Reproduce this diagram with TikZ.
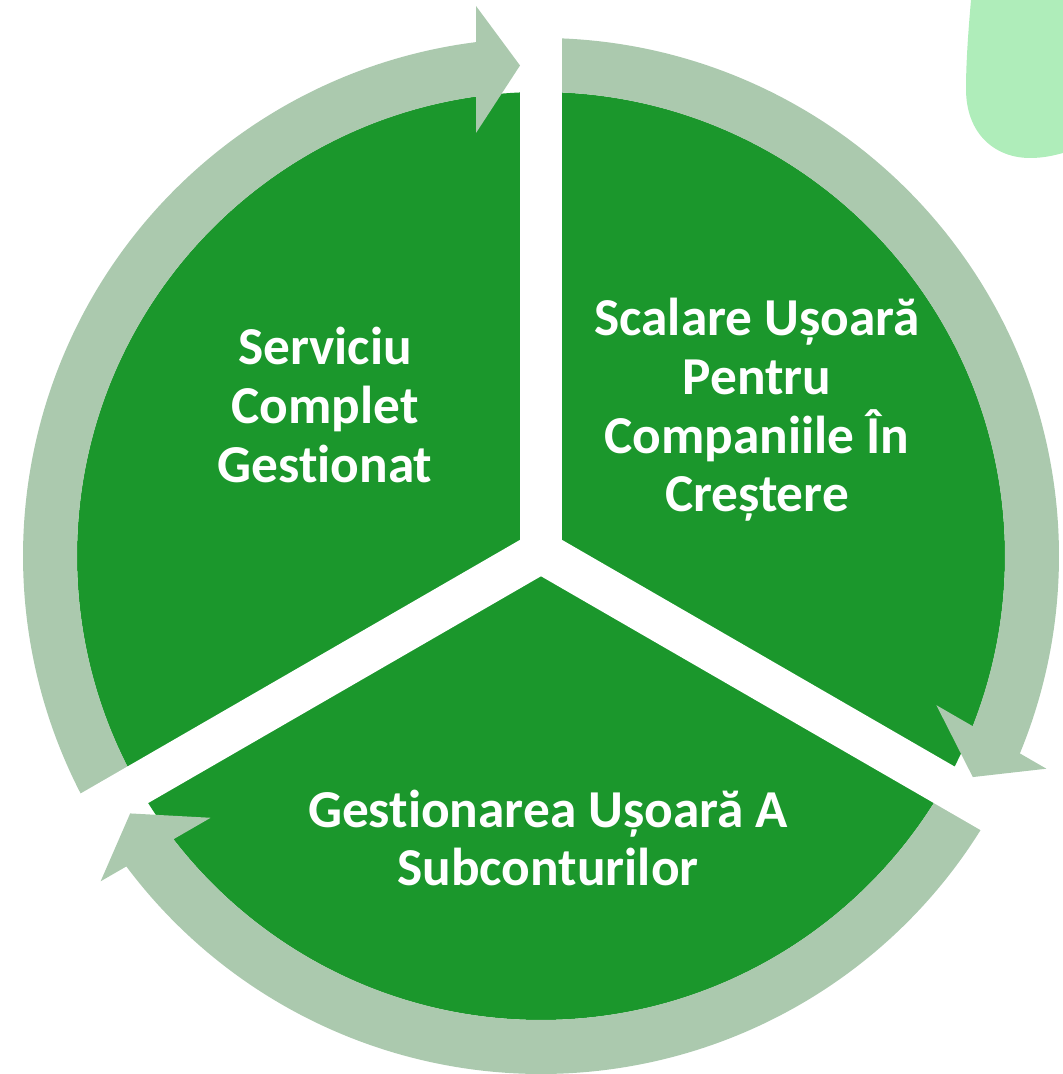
\documentclass[tikz,border=0pt]{standalone}
\usepackage{fontspec}
\setmainfont{Carlito}[Ligatures=NoCommon]
\usetikzlibrary{calc}
\definecolor{segGreen}{HTML}{1B972C}
\definecolor{ringGreen}{HTML}{ABC9AE}
\definecolor{blobGreen}{HTML}{AFEDBA}
\begin{document}
\begin{tikzpicture}[x=0.75pt,y=0.75pt,
  seg/.style={fill=segGreen},
  ringarrow/.style={fill=ringGreen},
  blob/.style={fill=blobGreen},
  gapline/.style={draw=white, line width=31.5pt, line cap=butt},
  lbl/.style={text=white, font=\fontsize{40}{44}\selectfont\bfseries, align=center, inner sep=0pt}]
\useasboundingbox (0,0) rectangle (1063,1074);
\coordinate (C) at (541,518);
\coordinate (J) at (541,522);
% decorative blob top right
\fill[blob] (971,1074) .. controls (968,1040) and (966,1010) .. (966,985)
  .. controls (966,940) and (995,916) .. (1030,916)
  .. controls (1045,916) and (1055,919) .. (1063,921) -- (1063,1074) -- cycle;
% green disc
\fill[seg] (C) circle[radius=464];
% ring arrow shafts
\begin{scope}[shift={(541,518)}]
\fill[ringarrow] (210:464) arc[start angle=210,end angle=96.4,radius=464]
  -- (96.4:518) arc[start angle=96.4,end angle=210,radius=518] -- cycle;
\fill[ringarrow] (90:464) arc[start angle=90,end angle=-23.14,radius=464]
  -- (-23.14:518) arc[start angle=-23.14,end angle=90,radius=518] -- cycle;
\fill[ringarrow] (-30:464) arc[start angle=-30,end angle=-143.95,radius=464]
  -- (-143.95:518) arc[start angle=-143.95,end angle=-30,radius=518] -- cycle;
\end{scope}
% white gaps
\draw[gapline] (J) -- ++(90:570);
\draw[gapline] (J) -- ++(210:570);
\draw[gapline] (J) -- ++(330:570);
\fill[white] (J) circle[radius=21];
% arrow heads (base parallel to the gap, tip on the gap edge)
\fill[ringarrow] ($(J)+(90:419)+(180:65)$) -- ($(J)+(90:486.5)+(180:21)$) -- ($(J)+(90:546)+(180:65)$) -- cycle;
\fill[ringarrow] ($(J)+(330:419)+(60:65)$) -- ($(J)+(330:486.5)+(60:21)$) -- ($(J)+(330:546)+(60:65)$) -- cycle;
\fill[ringarrow] ($(J)+(210:419)+(300:65)$) -- ($(J)+(210:486.5)+(300:21)$) -- ($(J)+(210:546)+(300:65)$) -- cycle;
% labels
\node[lbl] (t1) at (325,669) {Serviciu\\Complet\\Gestionat};
\node[lbl] (t2) at (757,664) {Scalare Ușoară\\Pentru\\Companiile În\\Creștere};
\node[lbl] (t3) at (548,236) {Gestionarea Ușoară A\\Subconturilor};
\end{tikzpicture}
\end{document}
